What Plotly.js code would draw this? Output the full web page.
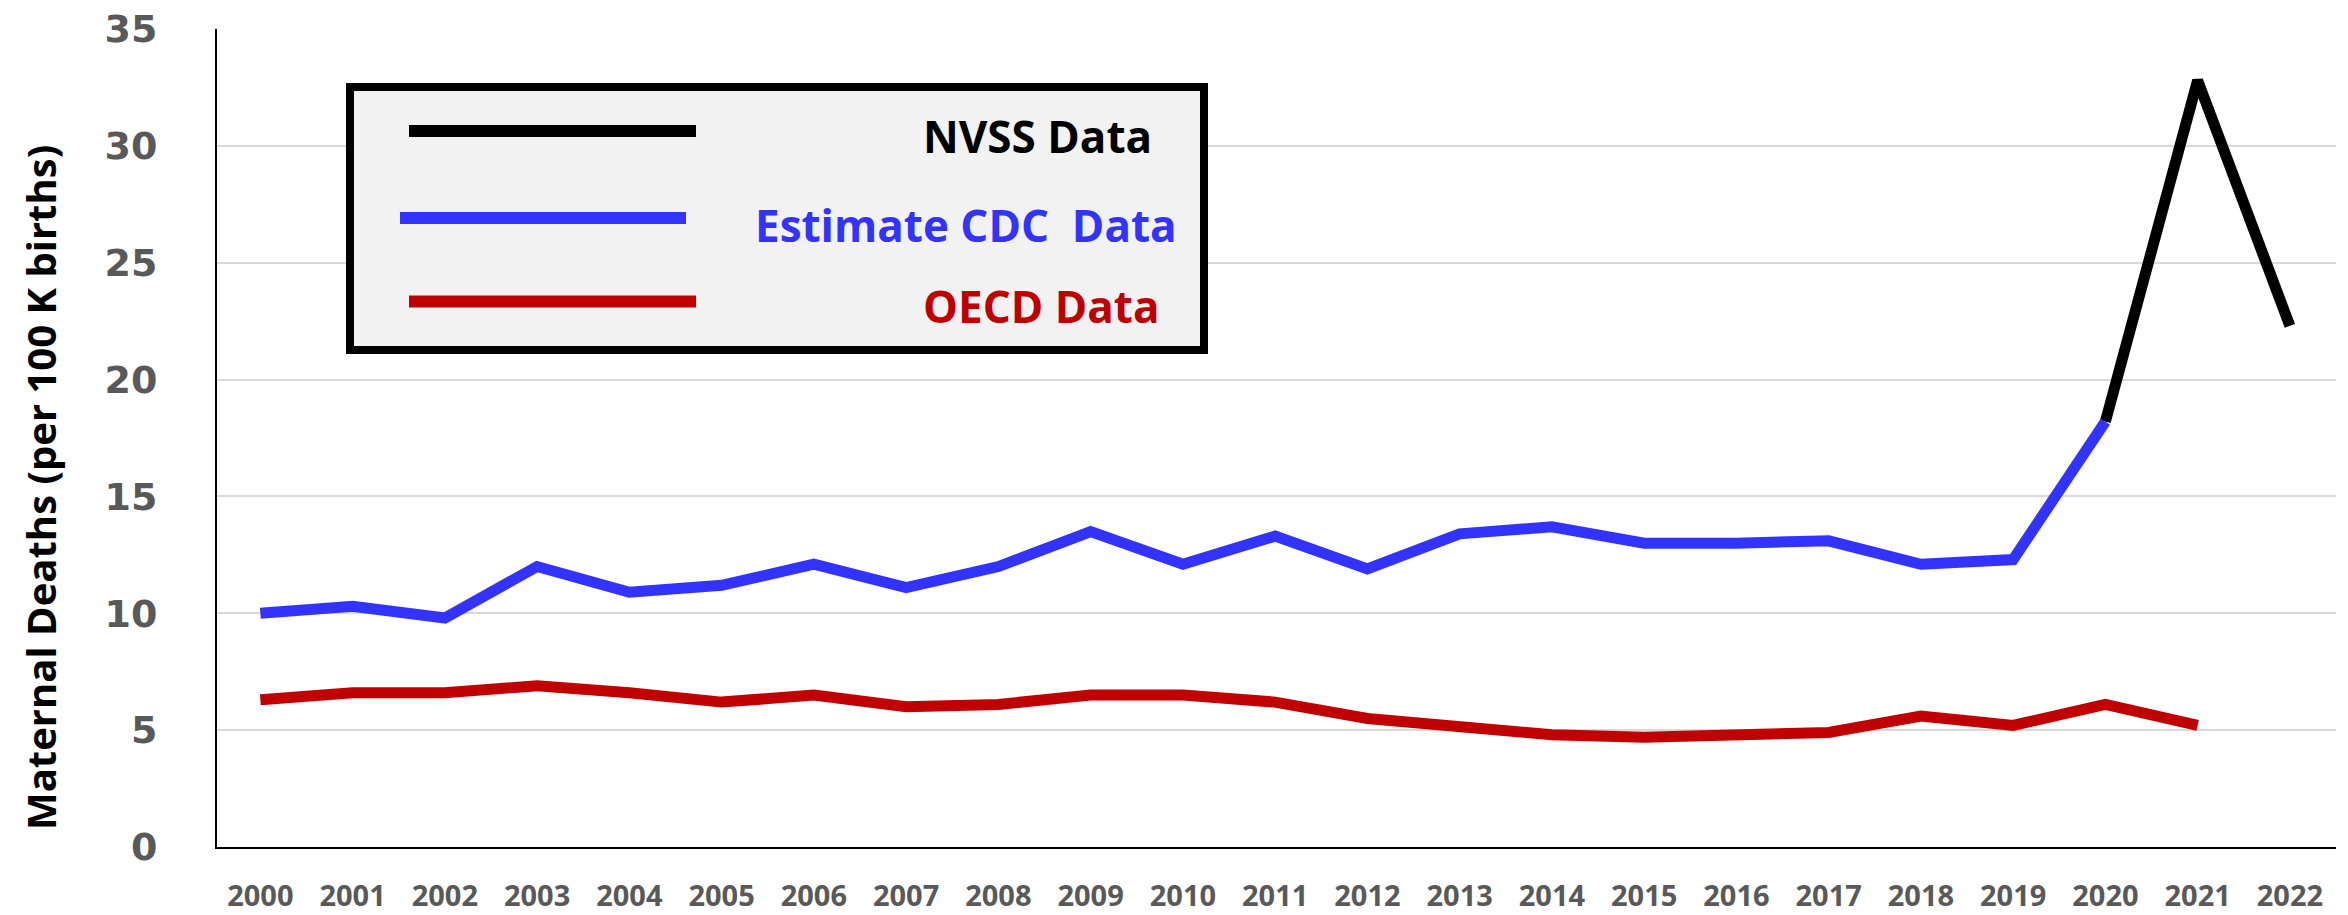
<!DOCTYPE html>
<html>
<head>
<meta charset="utf-8">
<script src="https://cdn.plot.ly/plotly-3.0.1.min.js"></script>
<style>html,body{margin:0;padding:0;background:#fff;}#chart{width:2348px;height:915px;}</style>
</head>
<body>
<div id="chart"></div>
<script>
const years = ["2000","2001","2002","2003","2004","2005","2006","2007","2008","2009","2010","2011","2012","2013","2014","2015","2016","2017","2018","2019","2020","2021","2022"];
const nvssData = [null,null,null,null,null,null,null,null,null,null,null,null,null,null,null,null,null,null,null,null,18.2,32.8,22.3];
const cdcEstimate = [10.0,10.3,9.8,12.0,10.9,11.2,12.1,11.1,12.0,13.5,12.1,13.3,11.9,13.4,13.7,13.0,13.0,13.1,12.1,12.3,18.2,null,null];
const oecdData = [6.3,6.6,6.6,6.9,6.6,6.2,6.5,6.0,6.1,6.5,6.5,6.2,5.5,5.1,4.8,4.7,4.8,4.9,5.6,5.2,6.1,5.2,null];
const yTicks = [0,5,10,15,20,25,30,35];
const seriesNames = ["NVSS Data","Estimate CDC\u00a0 Data","OECD Data"];
const seriesColors = ["#000000","#3333ff","#c00000"];

const L = 217, R = 2336, T = 29, B = 847;
const px = v => (v - L) / (R - L);
const py = v => (B - v) / (B - T);

const traces = [
  {x: years, y: nvssData, name: seriesNames[0], type: "scatter", mode: "lines",
   line: {color: seriesColors[0], width: 11}, connectgaps: false},
  {x: years, y: cdcEstimate, name: seriesNames[1], type: "scatter", mode: "lines",
   line: {color: seriesColors[1], width: 11}, connectgaps: false},
  {x: years, y: oecdData, name: seriesNames[2], type: "scatter", mode: "lines",
   line: {color: seriesColors[2], width: 11}, connectgaps: false}
];

const legFont = {family: "Open Sans, Noto Sans, sans-serif", size: 44, weight: 700};
const layout = {
  width: 2348, height: 915,
  margin: {l: L, r: 2348 - R, t: T, b: 915 - B, pad: 0},
  paper_bgcolor: "#ffffff", plot_bgcolor: "#ffffff",
  showlegend: false,
  xaxis: {
    type: "category", range: [-0.47, 22.5],
    showgrid: false, zeroline: false,
    showline: true, linecolor: "#000000", linewidth: 2,
    ticks: "", ticklabelstandoff: 22,
    tickfont: {family: "Open Sans, Noto Sans, sans-serif", size: 29, weight: 700, color: "#595959"}
  },
  yaxis: {
    range: [0, 35], tickvals: yTicks, ticktext: yTicks.map(String),
    showgrid: true, gridcolor: "#d9d9d9", gridwidth: 2,
    zeroline: false, showline: true, linecolor: "#000000", linewidth: 2,
    ticks: "", ticklabelstandoff: 50,
    tickfont: {family: "DejaVu Sans, Verdana, sans-serif", size: 38, weight: 700, color: "#595959"}
  },
  shapes: [
    {type: "rect", xref: "paper", yref: "paper", x0: px(350), x1: px(1204), y0: py(350), y1: py(87),
     line: {color: "#000000", width: 8}, fillcolor: "#f2f2f2", layer: "above"},
    {type: "line", xref: "paper", yref: "paper", x0: px(409), x1: px(696), y0: py(131), y1: py(131),
     line: {color: seriesColors[0], width: 12}},
    {type: "line", xref: "paper", yref: "paper", x0: px(400), x1: px(686), y0: py(218), y1: py(218),
     line: {color: seriesColors[1], width: 12}},
    {type: "line", xref: "paper", yref: "paper", x0: px(409), x1: px(696), y0: py(301.5), y1: py(301.5),
     line: {color: seriesColors[2], width: 12}}
  ],
  annotations: [
    {xref: "paper", yref: "paper", x: px(921), y: py(136), xanchor: "left", yanchor: "middle",
     text: seriesNames[0], showarrow: false, font: Object.assign({}, legFont, {color: seriesColors[0]})},
    {xref: "paper", yref: "paper", x: px(753), y: py(224.5), xanchor: "left", yanchor: "middle",
     text: seriesNames[1], showarrow: false, font: Object.assign({}, legFont, {color: seriesColors[1]})},
    {xref: "paper", yref: "paper", x: px(921), y: py(306), xanchor: "left", yanchor: "middle",
     text: seriesNames[2], showarrow: false, font: Object.assign({}, legFont, {color: seriesColors[2]})},
    {xref: "paper", yref: "paper", x: px(40), y: py(488), xanchor: "center", yanchor: "middle",
     textangle: -90, text: "Maternal Deaths (per 100 K births)", showarrow: false,
     font: {family: "Open Sans, Noto Sans, sans-serif", size: 40, weight: 700, color: "#000000"}}
  ]
};

Plotly.newPlot("chart", traces, layout, {staticPlot: true, displayModeBar: false});
</script>
</body>
</html>
